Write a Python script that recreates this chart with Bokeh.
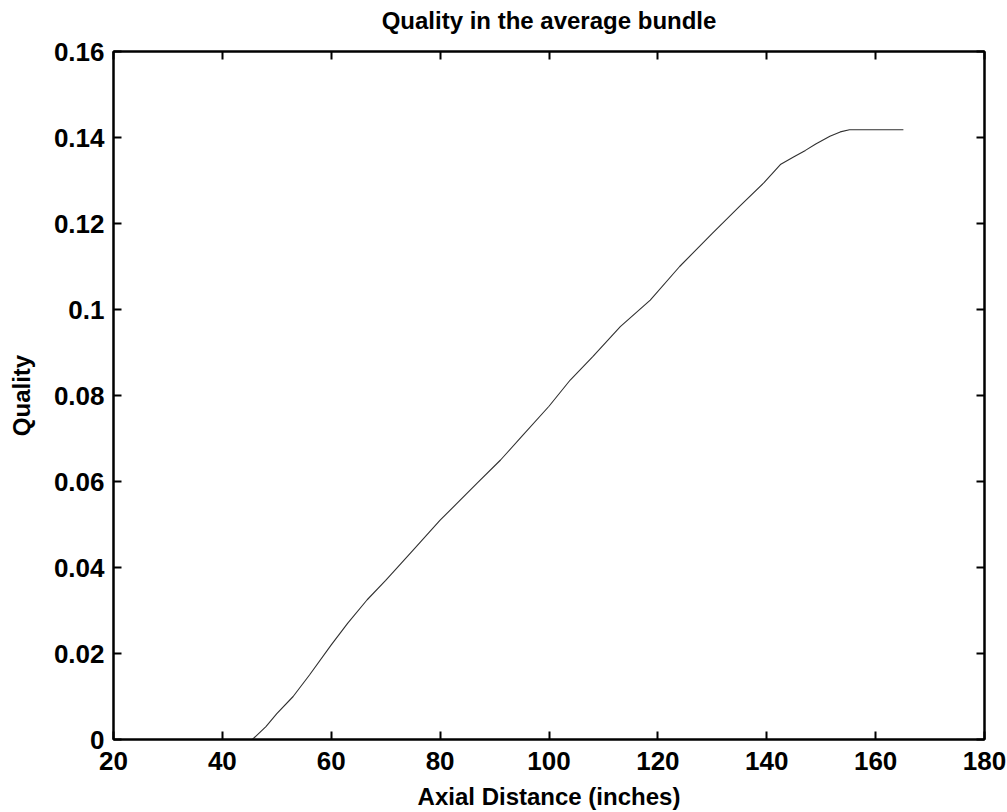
from bokeh.plotting import figure
from bokeh.models import Range1d, FixedTicker, LinearAxis
from bokeh.embed import file_html
from bokeh.resources import INLINE

# Data
axial_distance = [45.5, 48, 50, 53, 56, 60, 63, 66.6, 70, 75, 80, 86.8, 91.1, 95, 100,
                  103.9, 108, 113.1, 118.6, 124, 130, 135, 139.5, 142.5, 145, 147.1,
                  149, 151.6, 153.5, 155.2, 160, 165.1]
quality = [0, 0.003, 0.006, 0.010, 0.015, 0.022, 0.027, 0.0325, 0.037, 0.044, 0.051,
           0.0596, 0.065, 0.0705, 0.0775, 0.0836, 0.089, 0.096, 0.1022, 0.110, 0.1177,
           0.124, 0.1295, 0.1337, 0.1355, 0.137, 0.1385, 0.1403, 0.1413, 0.1418,
           0.1418, 0.1418]

title_text = "Quality in the average bundle"
x_ticks = [20, 40, 60, 80, 100, 120, 140, 160, 180]
y_ticks = [0, 0.02, 0.04, 0.06, 0.08, 0.1, 0.12, 0.14, 0.16]
y_tick_labels = ["0", "0.02", "0.04", "0.06", "0.08", "0.1", "0.12", "0.14", "0.16"]

FONT = "Liberation Sans"

p = figure(width=1007, height=812, output_backend="svg", toolbar_location=None,
           x_range=Range1d(20, 180), y_range=Range1d(0, 0.16),
           min_border_left=113, min_border_right=23, min_border_top=51,
           min_border_bottom=72)

p.line(axial_distance, quality, line_color="#303030", line_width=1.1)

p.grid.visible = False
p.background_fill_color = "white"
p.border_fill_color = "white"
p.outline_line_color = "black"
p.outline_line_width = 2

for ax in (p.xaxis[0], p.yaxis[0]):
    ax.axis_line_width = 2
    ax.major_tick_in = 8
    ax.major_tick_out = 0
    ax.major_tick_line_width = 2
    ax.minor_tick_line_color = None
    ax.major_label_text_font = FONT
    ax.major_label_text_font_size = "26px"
    ax.major_label_text_font_style = "bold"
    ax.major_label_text_color = "black"
    ax.axis_label_text_font = FONT
    ax.axis_label_text_font_size = "24px"
    ax.axis_label_text_font_style = "bold"
    ax.axis_label_text_color = "black"

p.xaxis[0].ticker = FixedTicker(ticks=x_ticks)
p.yaxis[0].ticker = FixedTicker(ticks=y_ticks)
p.yaxis[0].major_label_overrides = {t: l for t, l in zip(y_ticks, y_tick_labels)}
p.xaxis[0].axis_label = "Axial Distance (inches)"
p.yaxis[0].axis_label = "Quality"
p.xaxis[0].major_label_standoff = 12
p.yaxis[0].major_label_standoff = 9
p.xaxis[0].axis_label_standoff = 10
p.yaxis[0].axis_label_standoff = 16

# mirrored axes (ticks only) on top and right; the title sits on the top axis
top = LinearAxis(ticker=FixedTicker(ticks=x_ticks), major_label_text_font_size="0px",
                 major_tick_in=8, major_tick_out=0, major_tick_line_width=2,
                 axis_line_width=2, minor_tick_line_color=None,
                 major_label_standoff=0, axis_label=title_text,
                 axis_label_standoff=18, axis_label_text_font=FONT,
                 axis_label_text_font_size="24px", axis_label_text_font_style="bold",
                 axis_label_text_color="black")
right = LinearAxis(ticker=FixedTicker(ticks=y_ticks), major_label_text_font_size="0px",
                   major_tick_in=8, major_tick_out=0, major_tick_line_width=2,
                   axis_line_width=2, minor_tick_line_color=None, major_label_standoff=0)
top.major_label_text_color = None
right.major_label_text_color = None
p.add_layout(top, "above")
p.add_layout(right, "right")

open("out.html", "w").write(file_html(p, INLINE))
